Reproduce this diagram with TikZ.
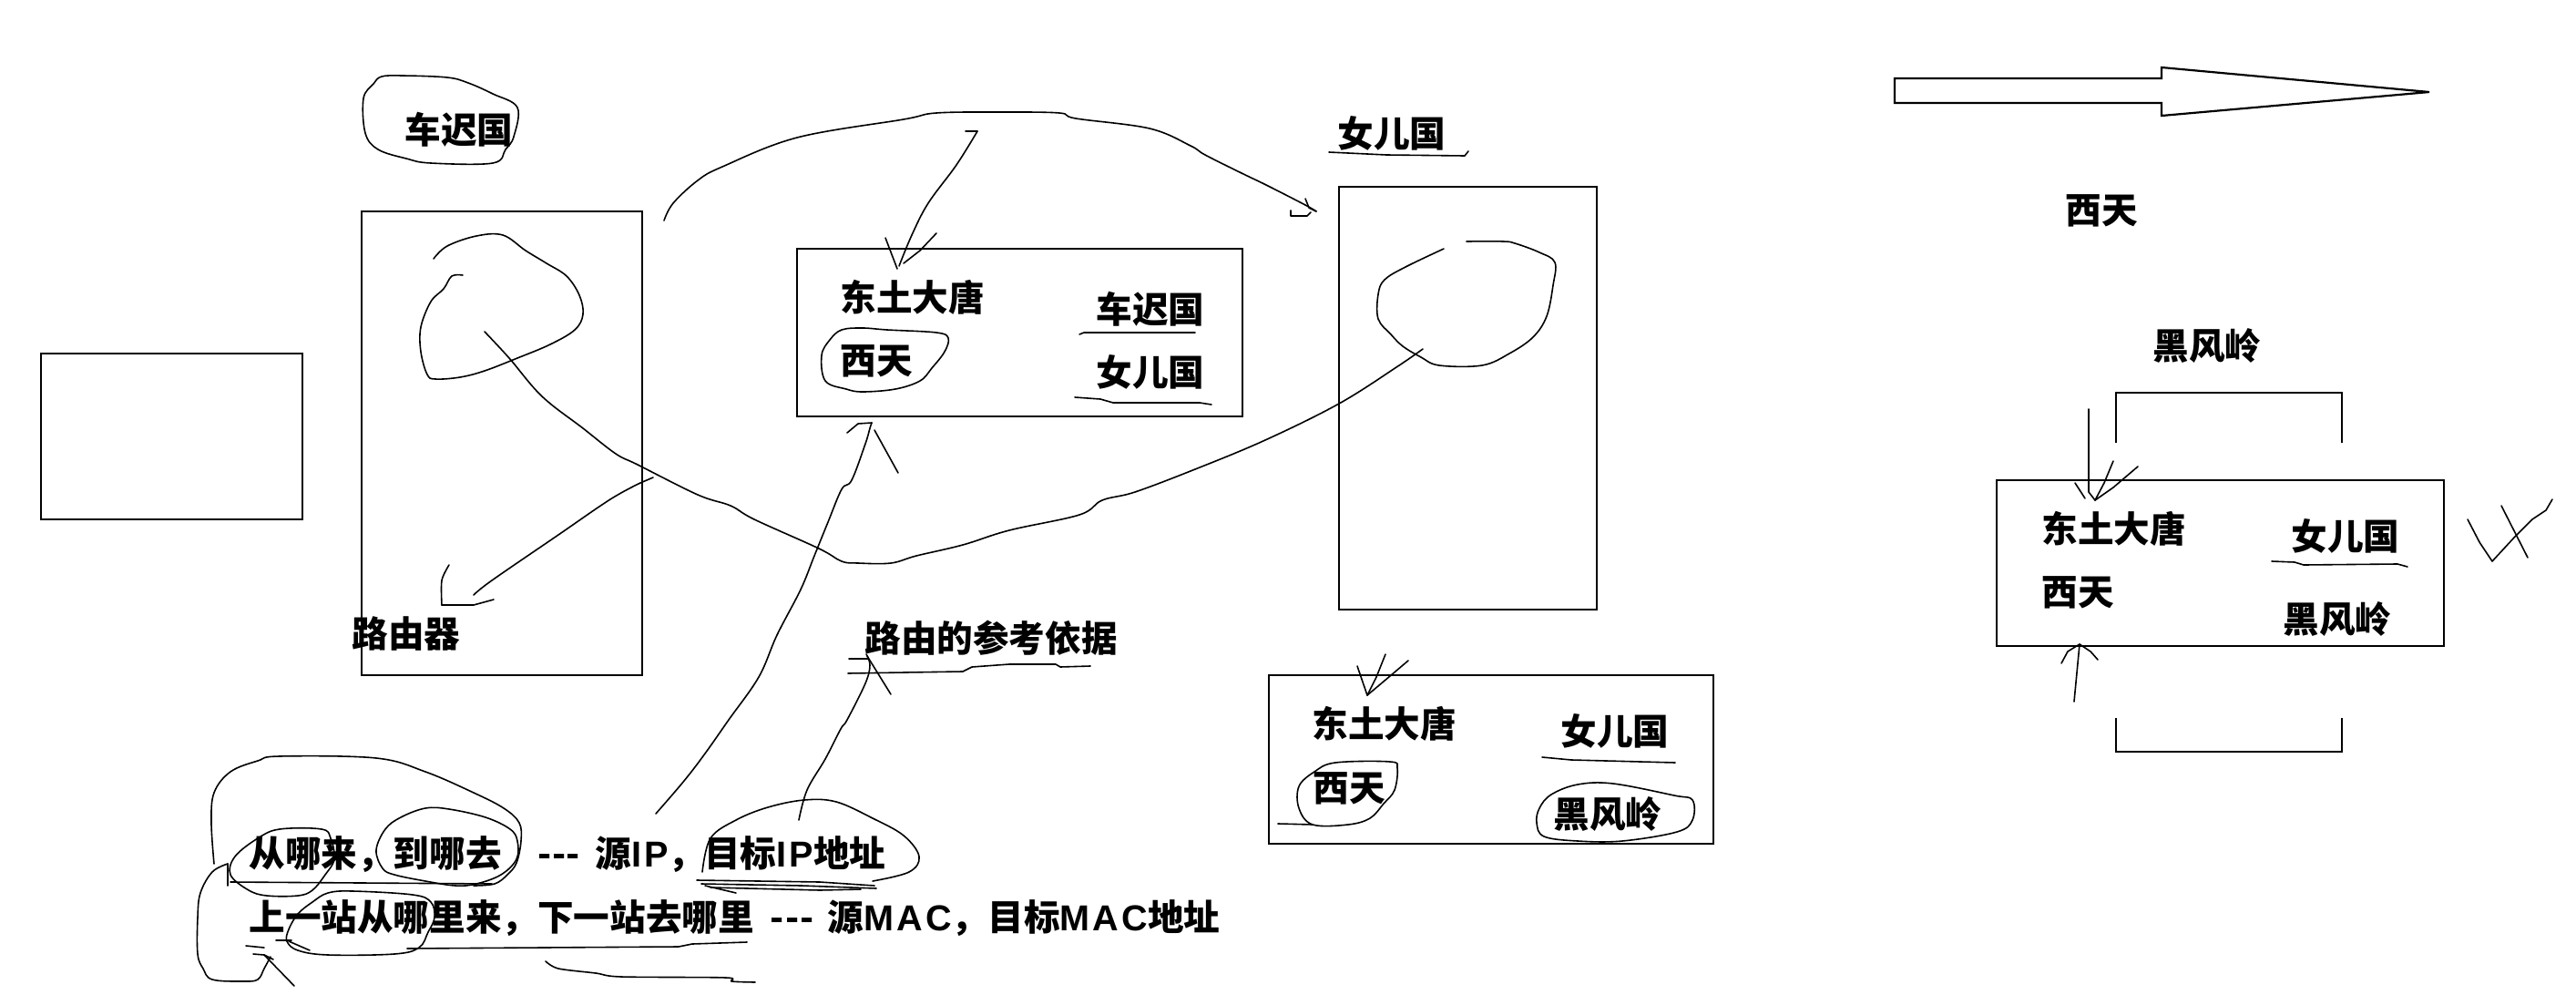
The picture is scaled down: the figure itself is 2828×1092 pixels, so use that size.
\documentclass[tikz,border=0pt]{standalone}
\usepackage{fontspec}
\setmainfont{Noto Sans CJK SC}
\newfontfamily\latinfont{Liberation Sans}[LetterSpace=8]
\begin{document}
\begin{tikzpicture}[x=0.5pt,y=-0.5pt]
\tikzset{
  box/.style={draw, line width=1.1pt, inner sep=0pt, rectangle},
  txt/.style={inner sep=0pt, anchor=west, font=\bfseries\fontsize{19.8pt}{24pt}\selectfont},
  pen/.style={line width=0.8pt, line cap=round, line join=round},
  boxline/.style={line width=1.1pt, line join=miter},
}
\fill[white] (0,0) rectangle (2828,1092);
\useasboundingbox (0,0) rectangle (2828,1092);

% ---------- boxes ----------
\node[box, minimum width=143.5pt, minimum height=91pt] (smallbox) at (188.5,479) {};
\node[box, minimum width=154pt, minimum height=254.5pt] (routerbox) at (551,486.5) {};
\node[box, minimum width=244.5pt, minimum height=92pt] (tab1) at (1119.5,365) {};
\node[box, minimum width=141.5pt, minimum height=232pt] (nvbox) at (1611.5,437) {};
\node[box, minimum width=244pt, minimum height=92.5pt] (tab2) at (1637,833.5) {};
\node[box, minimum width=245.5pt, minimum height=91pt] (tab3) at (2437.5,618) {};
\draw[boxline] (2323,486) -- (2323,431) -- (2571,431) -- (2571,486);
\draw[boxline] (2323,788) -- (2323,825) -- (2571,825) -- (2571,788);
\draw[boxline] (2080,86) -- (2373,86) -- (2373,74) -- (2667,101) -- (2373,127) -- (2373,113) -- (2080,113) -- cycle;

% ---------- texts ----------
\node[txt] (tchechi) at (444,142) {车迟国};
\node[txt] (tdt1) at (922,326) {东土大唐};
\node[txt] (txt1) at (922,396) {西天};
\node[txt] (tcc1) at (1203,339) {车迟国};
\node[txt] (tne1) at (1203,408) {女儿国};
\node[txt] (tnetitle) at (1468,146) {女儿国};
\node[txt] (txttop) at (2267,231) {西天};
\node[txt] (thfltop) at (2363,379) {黑风岭};
\node[txt] (tdt3) at (2241,580) {东土大唐};
\node[txt] (tne3) at (2515,588) {女儿国};
\node[txt] (txt3) at (2241,650) {西天};
\node[txt] (thfl3) at (2506,679) {黑风岭};
\node[txt] (trouter) at (386,695) {路由器};
\node[txt] (tbasis) at (949,700) {路由的参考依据};
\node[txt] (tdt2) at (1440,794) {东土大唐};
\node[txt] (tne2) at (1713,802) {女儿国};
\node[txt] (txt2) at (1441,865) {西天};
\node[txt] (thfl2) at (1705,893) {黑风岭};
\node[txt] (tline1) at (273,938) {从哪来，到哪去\hspace{20pt}\makebox[23pt][s]{-\hfill-\hfill-}\hspace{8.5pt}源{\latinfont IP}，目标{\latinfont IP}地址};
\node[txt] (tline2) at (273,1008) {上一站从哪里来，下一站去哪里\hspace{9pt}\makebox[24pt][s]{-\hfill-\hfill-}\hspace{7.5pt}源{\latinfont MAC}，目标{\latinfont MAC}地址};

% ---------- freehand strokes ----------
% ellipse round top 车迟国
\draw[pen] plot[smooth cycle, tension=0.6] coordinates {(419,84) (442,83) (491,85) (514,91) (541,103) (568,118) (564,150) (555,164) (541,179) (473,179) (446,174) (415,164) (401,146) (399,108) (410,92)};
% ellipse round 西天 in first table
\draw[pen] plot[smooth cycle, tension=0.6] coordinates {(924,362) (947,360) (974,362) (1028,365) (1041,371) (1037,386) (1023,404) (1010,418) (983,427) (947,430) (929,427) (906,418) (902,390) (911,373)};
% underlines in first table
\draw[pen] (1185,367) -- (1190,365) -- (1312,365);
\draw[pen] (1180,436) -- (1208,438) -- (1222,442) -- (1317,442) -- (1330,444);
% underline of 女儿国 title
\draw[pen] (1459,167) -- (1522,170) -- (1608,171) -- (1612,166);

% big arc with arrow head
\draw[pen] plot[smooth, tension=0.6] coordinates {(729,242) (739,223) (766,198) (793,183) (875,151) (992,131) (1028,124) (1100,123) (1163,124) (1181,130) (1262,141) (1307,160) (1323,170) (1363,190) (1390,203) (1433,225) (1445,232)};
\draw[pen] (1433,218) -- (1437,228) -- (1445,232);
\draw[pen] (1417,231) -- (1417,237) -- (1435,237) -- (1439,233);

% arrow from top into first table
\draw[pen] (1060,144) -- (1073,144);
\draw[pen] plot[smooth, tension=0.6] coordinates {(1073,144) (1050,181) (1019,223) (1001,258) (987,292)};
\draw[pen] (972,261) -- (985,295);
\draw[pen] (1028,256) -- (1010,275) -- (992,289);

% loop in router box
\draw[pen] plot[smooth, tension=0.6] coordinates {(476,284) (491,270) (523,259) (552,258) (577,275) (600,289) (622,303) (636,324) (640,345) (631,362) (604,378) (568,393) (532,407) (505,414) (478,416) (469,411) (462,386) (462,359) (473,331) (487,317) (496,303) (508,302)};
% long curve between the two loops
\draw[pen] plot[smooth, tension=0.6] coordinates {(532,364) (559,393) (595,435) (640,470) (676,498) (700,510) (766,543) (802,555) (828,570) (899,602) (924,616) (942,618) (978,618) (1006,610) (1057,598) (1108,582) (1185,565) (1210,549) (1246,540) (1312,515) (1389,483) (1470,443) (1533,403) (1562,383)};
% loop in 女儿国 box
\draw[pen] plot[smooth, tension=0.6] coordinates {(1585,273) (1543,293) (1520,307) (1513,323) (1513,350) (1527,367) (1540,380) (1560,392) (1580,401) (1627,401) (1657,388) (1683,370) (1698,347) (1705,313) (1707,288) (1690,277) (1663,267) (1650,265) (1610,265)};

% router arrow
\draw[pen] (717,524) -- (703,530);
\draw[pen] plot[smooth, tension=0.6] coordinates {(703,530) (670,548) (613,587) (540,637) (520,653)};
\draw[pen] plot[smooth, tension=0.5] coordinates {(493,620) (485,637) (485,664)};
\draw[pen] (485,664) -- (520,664) -- (542,658);

% long arrow up to first table
\draw[pen] plot[smooth, tension=0.6] coordinates {(720,893) (751,857) (774,827) (800,790) (833,743) (853,697) (879,647) (894,610) (909,573) (924,537) (935,527) (950,487) (955,470) (957,464)};
\draw[pen] (930,475) -- (942,465) -- (957,464);
\draw[pen] (960,472) -- (986,519);

% arrow up to 路由的参考依据
\draw[pen] plot[smooth, tension=0.6] coordinates {(877,900) (886,867) (906,833) (923,800) (930,790) (950,750) (955,730) (951,718)};
\draw[pen] (952,720) -- (978,762);
\draw[pen] (932,723) -- (953,723);
\draw[pen] (931,739) -- (1057,737) -- (1067,732) -- (1108,729) -- (1159,729) -- (1164,732) -- (1197,731);

% bottom-left loops
\draw[pen] plot[smooth, tension=0.6] coordinates {(235,948) (232,903) (235,870) (253,847) (283,835) (307,830) (413,832) (467,847) (520,870) (553,887) (570,903) (572,923) (567,947) (557,960) (543,970) (520,972)};
\draw[pen] (253,968) -- (540,970);
\draw[pen] plot[smooth, tension=0.6] coordinates {(250,948) (233,957) (220,980) (217,1007) (217,1047) (223,1063) (233,1075) (267,1077) (283,1075) (290,1063) (297,1050)};
\draw[pen] (250,948) -- (250,972);
\draw[pen] (278,1047) -- (290,1048) -- (300,1053);
\draw[pen] (290,1048) -- (323,1082);
\draw[pen] plot[smooth cycle, tension=0.6] coordinates {(253,960) (258,940) (283,920) (307,910) (353,910) (363,920) (367,943) (357,960) (343,977) (327,983) (293,983) (273,977)};
\draw[pen] plot[smooth cycle, tension=0.6] coordinates {(420,953) (413,933) (423,910) (440,897) (467,887) (493,888) (533,897) (560,910) (568,923) (567,943) (550,960) (523,970) (500,972) (467,967) (433,960)};
\draw[pen] plot[smooth cycle, tension=0.6] coordinates {(315,1033) (317,1020) (327,1003) (343,990) (360,980) (387,978) (453,982) (473,990) (477,1007) (470,1023) (460,1040) (433,1047) (360,1048) (327,1043)};
\draw[pen] (317,1033) -- (340,1043);
\draw[pen] (303,1032) -- (320,1032);
\draw[pen] (270,1038) -- (290,1040);
\draw[pen] (447,1041) -- (745,1039) -- (760,1036) -- (820,1034);
\draw[pen] plot[smooth, tension=0.5] coordinates {(599,1055) (613,1063) (654,1068) (682,1072) (797,1073) (803,1077) (829,1078)};
% ellipse round 目标IP地址
\draw[pen] plot[smooth, tension=0.6] coordinates {(771,957) (780,920) (808,900) (843,886) (883,878) (918,880) (958,898) (992,917) (1009,940) (998,957) (958,967)};
\draw[pen] (765,966) -- (900,968) -- (960,972);
\draw[pen] (770,970) -- (880,972) -- (962,975);
\draw[pen] (780,974) -- (900,977) -- (945,976);
\draw[pen] (774,972) -- (808,980);

% second table marks
\draw[pen] (1490,731) -- (1501,763);
\draw[pen] (1521,718) -- (1511,743) -- (1501,763);
\draw[pen] (1546,725) -- (1526,742) -- (1501,763);
\draw[pen] plot[smooth cycle, tension=0.6] coordinates {(1443,847) (1466,837) (1526,836) (1534,843) (1531,867) (1519,882) (1504,898) (1480,905) (1441,905) (1426,887) (1426,863)};
\draw[pen] (1441,905) -- (1403,904);
\draw[pen] (1693,831) -- (1725,834) -- (1839,837);
\draw[pen] plot[smooth cycle, tension=0.6] coordinates {(1703,872) (1732,861) (1771,860) (1838,873) (1858,878) (1858,900) (1841,913) (1781,923) (1732,923) (1695,918) (1687,903) (1690,887)};

% third table marks
\draw[pen] (2293,449) -- (2293,540) -- (2300,549);
\draw[pen] (2278,530) -- (2289,547);
\draw[pen] (2320,506) -- (2310,530) -- (2300,549);
\draw[pen] (2347,512) -- (2320,535) -- (2300,549);
\draw[pen] (2494,616) -- (2519,617) -- (2529,620) -- (2632,619) -- (2643,622);
\draw[pen] (2277,770) -- (2283,707);
\draw[pen] (2263,728) -- (2270,715) -- (2283,707) -- (2295,715) -- (2303,724);
\draw[pen] (2709,570) -- (2722,595) -- (2736,616) -- (2760,590) -- (2780,570) -- (2795,560) -- (2802,548);
\draw[pen] (2746,555) -- (2775,612);
\end{tikzpicture}
\end{document}
